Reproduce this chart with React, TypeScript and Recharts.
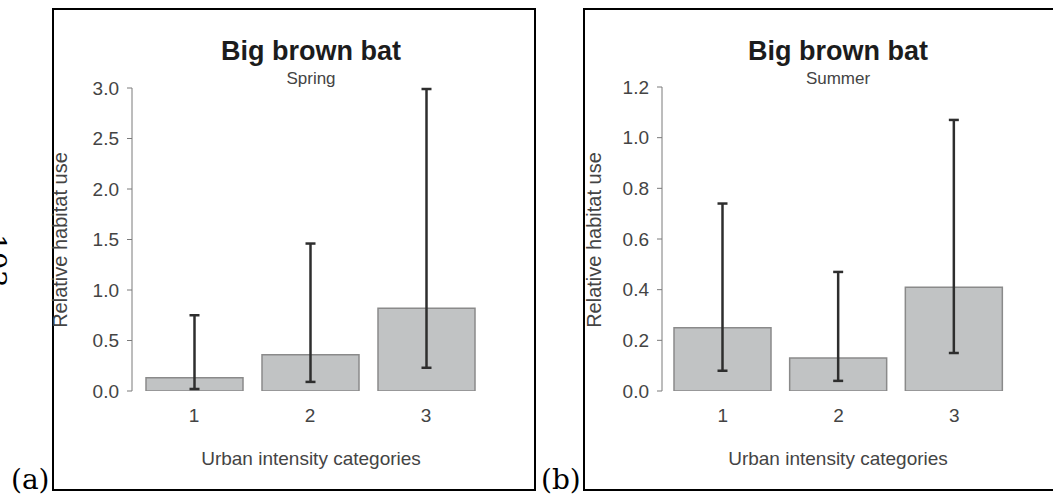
import React from 'react';
import { BarChart, Bar, XAxis, YAxis, ErrorBar } from 'recharts';

// Urban intensity categories on the x axis
const categories = ['1', '2', '3'];

// Spring: relative habitat use (bar height) with lower / upper interval bounds
const springMean = [0.13, 0.36, 0.82];
const springLower = [0.02, 0.09, 0.23];
const springUpper = [0.75, 1.46, 2.99];
const springTicks = [0, 0.5, 1, 1.5, 2, 2.5, 3];

// Summer: relative habitat use with lower / upper interval bounds
const summerMean = [0.25, 0.13, 0.41];
const summerLower = [0.08, 0.04, 0.15];
const summerUpper = [0.74, 0.47, 1.07];
const summerTicks = [0, 0.2, 0.4, 0.6, 0.8, 1, 1.2];

const buildRows = (mean: number[], lower: number[], upper: number[]) =>
  categories.map((cat, i) => ({
    cat,
    mean: mean[i],
    err: [mean[i] - lower[i], upper[i] - mean[i]],
  }));

const springRows = buildRows(springMean, springLower, springUpper);
const summerRows = buildRows(summerMean, summerLower, summerUpper);

const SANS = '"Liberation Sans", Arial, Helvetica, sans-serif';
const SERIF = '"DejaVu Serif", "Liberation Serif", serif';

const tickStyle = { fontSize: 19, fill: '#444', fontFamily: SANS };

type PanelProps = {
  rows: { cat: string; mean: number; err: number[] }[];
  ticks: number[];
  max: number;
  left: number;
  width: number;
  margin: { top: number; right: number; bottom: number; left: number };
  padLeft: number;
};

function Panel({ rows, ticks, max, left, width, margin, padLeft }: PanelProps) {
  return (
    <div style={{ position: 'absolute', left, top: 0, fontFamily: SANS }}>
      <BarChart width={width} height={498} data={rows} margin={margin}>
        <XAxis
          dataKey="cat"
          axisLine={false}
          tickLine={false}
          height={30}
          padding={{ left: padLeft, right: 0 }}
          tickMargin={12}
          tick={tickStyle}
        />
        <YAxis
          domain={[0, max]}
          ticks={ticks}
          interval={0}
          allowDataOverflow
          width={50}
          tickSize={5}
          tickMargin={8}
          stroke="#7a7a7a"
          tickFormatter={(v: number) => v.toFixed(1)}
          tick={tickStyle}
        />
        <Bar
          dataKey="mean"
          fill="#c1c3c4"
          stroke="#8a8a8a"
          strokeWidth={1.5}
          barSize={97}
          isAnimationActive={false}
        >
          <ErrorBar
            dataKey="err"
            direction="y"
            width={5}
            stroke="#2e2e2e"
            strokeWidth={2.5}
            isAnimationActive={false}
          />
        </Bar>
      </BarChart>
    </div>
  );
}

function Titles({ cx, season, yLabelX }: { cx: number; season: string; yLabelX: number }) {
  return (
    <>
      <div
        style={{
          position: 'absolute', left: cx - 200, width: 400, top: 38, textAlign: 'center',
          fontFamily: SANS, fontWeight: 'bold', fontSize: 27, lineHeight: '27px', color: '#1c1c1c',
        }}
      >
        Big brown bat
      </div>
      <div
        style={{
          position: 'absolute', left: cx - 200, width: 400, top: 70, textAlign: 'center',
          fontFamily: SANS, fontSize: 17, lineHeight: '17px', color: '#444',
        }}
      >
        {season}
      </div>
      <div
        style={{
          position: 'absolute', left: cx - 200, width: 400, top: 449, textAlign: 'center',
          fontFamily: SANS, fontSize: 19, lineHeight: '19px', color: '#444',
        }}
      >
        Urban intensity categories
      </div>
      <div
        style={{
          position: 'absolute', left: yLabelX, top: 240, whiteSpace: 'nowrap',
          transform: 'translate(-50%, -50%) rotate(-90deg)',
          fontFamily: SANS, fontSize: 20, lineHeight: '20px', color: '#444',
        }}
      >
        Relative habitat use
      </div>
    </>
  );
}

export default function App() {
  return (
    <div
      style={{
        position: 'fixed', left: 0, top: 0, width: 1053, height: 498,
        overflow: 'hidden', background: '#fff', fontFamily: SANS,
      }}
    >
      {/* panel frames */}
      <div style={{ position: 'absolute', left: 52, top: 8, width: 484, height: 483, border: '2px solid #000', boxSizing: 'border-box' }} />
      <div style={{ position: 'absolute', left: 583, top: 8, width: 490, height: 483, border: '2px solid #000', boxSizing: 'border-box' }} />

      {/* panel letters */}
      <div style={{ position: 'absolute', left: 11, top: 465, fontFamily: SERIF, fontSize: 28, lineHeight: '30px', color: '#000' }}>(a)</div>
      <div style={{ position: 'absolute', left: 541, top: 465, fontFamily: SERIF, fontSize: 28, lineHeight: '30px', color: '#000' }}>(b)</div>

      {/* page number at the edge */}
      <div
        style={{
          position: 'absolute', left: 9, top: 234, transformOrigin: '0 0', transform: 'rotate(90deg)',
          fontFamily: SERIF, fontSize: 28, lineHeight: '28px', color: '#000', whiteSpace: 'nowrap',
        }}
      >
        103
      </div>

      <Panel
        rows={springRows}
        ticks={springTicks}
        max={3}
        left={0}
        width={540}
        margin={{ top: 88, right: 56, bottom: 77, left: 82 }}
        padLeft={4}
      />
      <Panel
        rows={summerRows}
        ticks={summerTicks}
        max={1.2}
        left={540}
        width={513}
        margin={{ top: 87, right: 41, bottom: 77, left: 72 }}
        padLeft={3}
      />

      <Titles cx={311} season="Spring" yLabelX={60} />
      <Titles cx={838} season="Summer" yLabelX={594} />
    </div>
  );
}
